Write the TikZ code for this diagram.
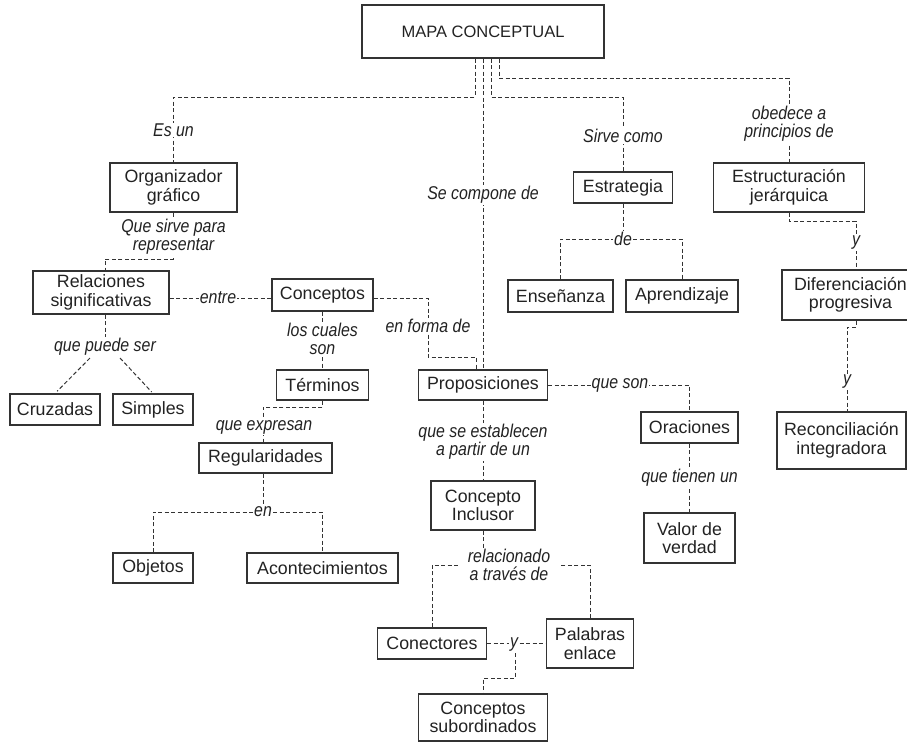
\documentclass[tikz,border=0pt]{standalone}
\usepackage{fontspec}
\setmainfont{Liberation Sans}
\newfontfamily\lblfont{Liberation Sans}[FakeStretch=0.86]
\usetikzlibrary{backgrounds}
\definecolor{ink}{HTML}{222222}
\definecolor{boxgray}{HTML}{333333}
\definecolor{linegray}{HTML}{333333}
\begin{document}
\begin{tikzpicture}[x=1pt,y=-1pt,
  box/.style 2 args={draw=boxgray, line width=1.2pt, inner sep=0pt, align=center,
    text=ink, minimum width=#1pt, minimum height=#2pt,
    font=\fontsize{17.8}{18.5}\selectfont},
  lbl/.style={fill=white, inner sep=1pt, align=center, text=ink,
    font=\lblfont\itshape\fontsize{18.5}{18}\selectfont},
  link/.style={draw=linegray, line width=1pt, dash pattern=on 4pt off 2.5pt}]
\useasboundingbox (0,0) rectangle (907,742);
\clip (0,0) rectangle (907,742);

% concept boxes
\node[box={242}{53}, font=\fontsize{16.5}{18}\selectfont] (mapa) at (483,31.5) {MAPA CONCEPTUAL};
\node[box={127}{49}] (org) at (173.5,187.5) {Organizador\\gráfico};
\node[box={99}{31}] (estrat) at (623,187.5) {Estrategia};
\node[box={151}{49}] (estruc) at (789,187.5) {Estructuración\\jerárquica};
\node[box={136}{43}] (rel) at (101,292.5) {Relaciones\\significativas};
\node[box={101}{32}] (conc) at (322.5,295) {Conceptos};
\node[box={105}{32}] (ens) at (560.5,296) {Enseñanza};
\node[box={112}{32}] (apr) at (682,296) {Aprendizaje};
\node[box={137}{50}] (dif) at (850.5,295) {Diferenciación\\progresiva};
\node[box={90}{31}] (cruz) at (55,409.5) {Cruzadas};
\node[box={80}{31}] (simp) at (153,409.5) {Simples};
\node[box={92}{30}] (term) at (322.5,385) {Términos};
\node[box={129}{30}] (prop) at (483,385) {Proposiciones};
\node[box={97}{31}] (orac) at (689.5,427.5) {Oraciones};
\node[box={129}{57}] (recon) at (841.5,440.5) {Reconciliación\\integradora};
\node[box={133}{30}] (regu) at (265.5,458) {Regularidades};
\node[box={104}{49}] (ci) at (483,505.5) {Concepto\\Inclusor};
\node[box={91}{50}] (valor) at (689.5,538) {Valor de\\verdad};
\node[box={80}{30}] (obj) at (153,568) {Objetos};
\node[box={151}{30}] (acon) at (322.5,568) {Acontecimientos};
\node[box={109}{31}] (conec) at (432,643.5) {Conectores};
\node[box={87}{49}] (pal) at (590,643.5) {Palabras\\enlace};
\node[box={129}{47}] (sub) at (483,717.5) {Conceptos\\subordinados};

% linking words
\node[lbl] (l1) at (173.5,130) {Es un};
\node[lbl] (l2) at (623,136) {Sirve como};
\node[lbl] (l3) at (789,124) {obedece a\\principios de};
\node[lbl] (l4) at (483,195) {Se compone de};
\node[lbl] (l5) at (173.5,237) {Que sirve para\\representar};
\node[lbl] (l6) at (218,298) {entre};
\node[lbl] (l7) at (322.5,339) {los cuales\\son};
\node[lbl] (l8) at (428,326) {en forma de};
\node[lbl] (l9) at (105,347) {que puede ser};
\node[lbl] (l10) at (623,239) {de};
\node[lbl] (l11) at (856,243) {y};
\node[lbl] (l12) at (847,382) {y};
\node[lbl] (l13) at (620,385) {que son};
\node[lbl] (l14) at (264,427) {que expresan};
\node[lbl] (l15) at (483,442) {que se establecen\\a partir de un};
\node[lbl] (l16) at (689.5,478) {que tienen un};
\node[lbl] (l17) at (263,512) {en};
\node[lbl, inner xsep=10pt] (l18) at (509,565) {relacionado\\a través de};
\node[lbl] (l19) at (514,645) {y};

% dashed connectors
\begin{scope}[on background layer]
  \coordinate (a1) at (475,97);
  \coordinate (a3) at (491,97);
  \coordinate (a4) at (499,78);
  \draw[link] (mapa.south -| a1) -- (a1) -| (org.north);
  \draw[link] (mapa.south) -- (prop.north);
  \draw[link] (mapa.south -| a3) -- (a3) -| (estrat.north);
  \draw[link] (mapa.south -| a4) -- (a4) -| (estruc.north);

  \coordinate (j) at (856,221);
  \draw[link] (estruc.south) |- (j) -- (dif.north -| j);
  \coordinate (k1) at (856,327);
  \coordinate (k2) at (847,327);
  \draw[link] (dif.south -| k1) -- (k1) -- (k2) -- (recon.north -| k2);

  \coordinate (c2) at (105,259);
  \draw[link] (org.south) |- (c2) -- (rel.north -| c2);
  \draw[link] (rel.east |- l6) -- (conc.west |- l6);
  \draw[link] (rel.south -| l9) -- (l9);
  \coordinate (d1) at (90,358);
  \coordinate (d3) at (120,358);
  \draw[link, shorten >=3pt] (d1) -- (cruz.north);
  \draw[link, shorten >=2pt] (d3) -- (simp.north);

  \draw[link] (conc.south) -- (term.north);
  \coordinate (f1) at (428,357);
  \coordinate (f2) at (476,357);
  \draw[link] (conc.east |- l6) -| (f1) -- (f2) -- (prop.north -| f2);

  \coordinate (g) at (263,407);
  \draw[link] (term.south) |- (g) -- (regu.north -| g);
  \draw[link] (regu.south -| l17) -- (l17);
  \draw[link] (obj.north) |- (l17) -| (acon.north);

  \draw[link] (estrat.south) -- (l10);
  \draw[link] (ens.north) |- (l10) -| (apr.north);

  \draw[link] (prop.east) -| (orac.north);
  \draw[link] (orac.south) -- (valor.north);

  \draw[link] (prop.south) -- (ci.north);
  \draw[link] (ci.south) -- (ci.south |- l18.north);
  \draw[link] (conec.north) |- (l18.west);
  \draw[link] (pal.north) |- (l18.east);

  \draw[link] (conec.east) -- (pal.west);
  \coordinate (n1) at (515,678);
  \coordinate (n2) at (483,678);
  \draw[link] (l19.south -| n1) -- (n1) -- (n2) -- (sub.north -| n2);
\end{scope}
\end{tikzpicture}
\end{document}
